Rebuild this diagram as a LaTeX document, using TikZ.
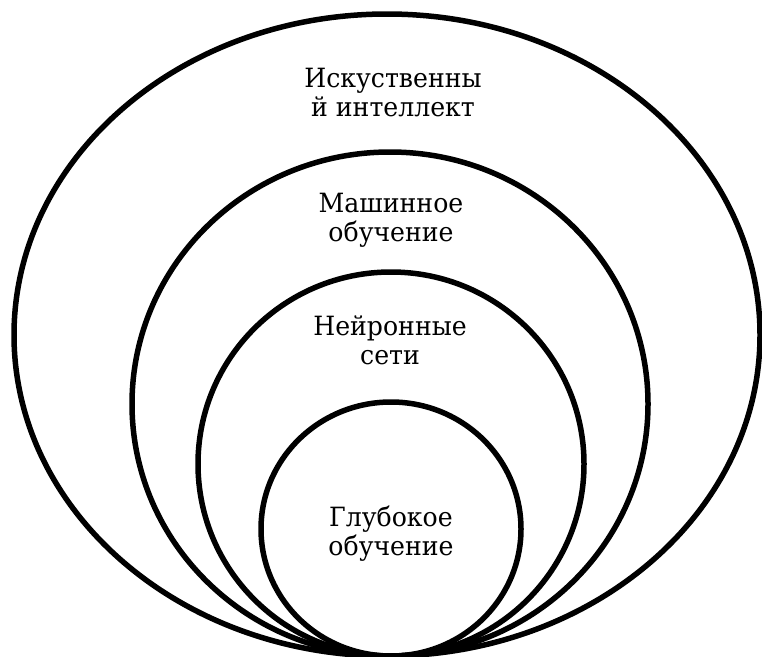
\documentclass[tikz,border=0pt]{standalone}
\usepackage{fontspec}
\setmainfont{DejaVu Serif}[FakeStretch=0.95]
\begin{document}
\begin{tikzpicture}[x=1pt,y=-1pt,
  ring/.style={draw=black,line width=5.5pt},
  lbl/.style={align=center,font=\fontsize{26.5}{29}\selectfont,inner sep=0pt}]
\useasboundingbox (0,0) rectangle (762,656);
\clip (0,0) rectangle (762,656);
\fill[white] (0,0) rectangle (762,656);
\draw[ring] (387,335) ellipse [x radius=373, y radius=321];
\draw[ring] (390,404) ellipse [x radius=258, y radius=252];
\draw[ring] (391,464) ellipse [x radius=193, y radius=192];
\draw[ring] (391,529) ellipse [x radius=130, y radius=127];
\node[lbl] (ai) at (393,93) {Искуственны\\й интеллект};
\node[lbl] (ml) at (391,220) {Машинное\\обучение};
\node[lbl] (nn) at (390,340) {Нейронные\\сети};
\node[lbl] (dl) at (391,534) {Глубокое\\обучение};
\end{tikzpicture}
\end{document}
